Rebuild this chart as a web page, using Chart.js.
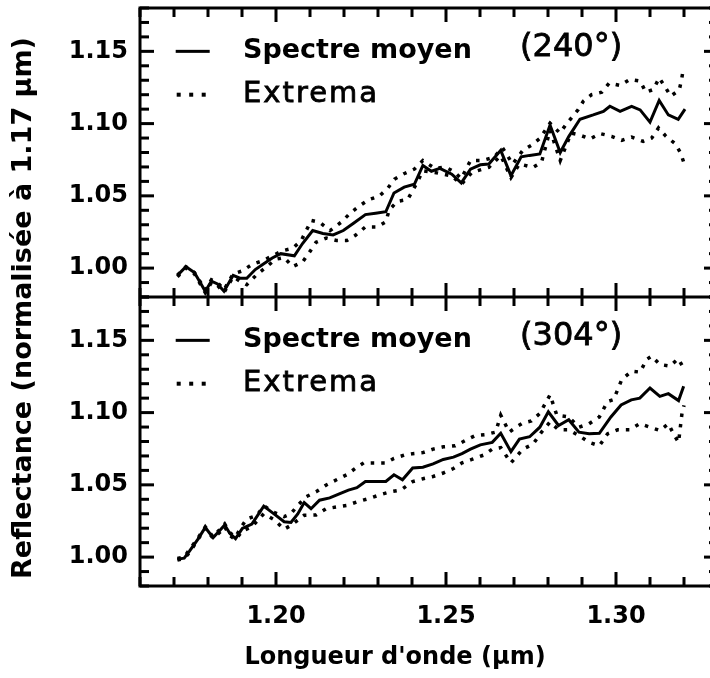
<!DOCTYPE html>
<html>
<head>
<meta charset="utf-8">
<script src="https://cdn.jsdelivr.net/npm/chart.js@4.4.1/dist/chart.umd.min.js"></script>
<style>
  html, body { margin: 0; padding: 0; background: #fff; overflow: hidden; }
  #wrap { position: relative; width: 722px; height: 678px; }
</style>
</head>
<body>
<div id="wrap"><canvas id="chart"></canvas></div>
<script>
// panel 240° : spectre moyen + extrema
const wl240Mean = [1.171, 1.1735, 1.176, 1.1792, 1.181, 1.1828, 1.1847, 1.1874, 1.1894, 1.1914, 1.1939, 1.1964, 1.1989, 1.2014, 1.2054, 1.2078, 1.2108, 1.2138, 1.2168, 1.2198, 1.2228, 1.2263, 1.2293, 1.2323, 1.2347, 1.2377, 1.2407, 1.2432, 1.2457, 1.2482, 1.2517, 1.2545, 1.2572, 1.2601, 1.2626, 1.2661, 1.2691, 1.2721, 1.2746, 1.2776, 1.2806, 1.2836, 1.2861, 1.2894, 1.2933, 1.2963, 1.2982, 1.3012, 1.3046, 1.3071, 1.31, 1.3127, 1.3154, 1.3183, 1.3203];
const refl240Mean = [0.995, 1.001, 0.997, 0.984, 0.991, 0.989, 0.984, 0.995, 0.993, 0.993, 0.999, 1.003, 1.007, 1.010, 1.0085, 1.017, 1.026, 1.024, 1.023, 1.026, 1.031, 1.037, 1.038, 1.039, 1.052, 1.056, 1.058, 1.071, 1.067, 1.069, 1.065, 1.059, 1.0685, 1.0715, 1.072, 1.0815, 1.064, 1.077, 1.078, 1.079, 1.099, 1.080, 1.091, 1.103, 1.106, 1.1085, 1.112, 1.1085, 1.112, 1.1095, 1.101, 1.116, 1.106, 1.103, 1.110];

const wl240Max = [1.171, 1.1735, 1.176, 1.1792, 1.181, 1.1828, 1.1847, 1.1874, 1.19, 1.193, 1.196, 1.1989, 1.2019, 1.2049, 1.2074, 1.2104, 1.2129, 1.2159, 1.2193, 1.2218, 1.2243, 1.2273, 1.2303, 1.2328, 1.2348, 1.2378, 1.2407, 1.2432, 1.2467, 1.2497, 1.2522, 1.2545, 1.2572, 1.2606, 1.2641, 1.2666, 1.2696, 1.2726, 1.2751, 1.2776, 1.2806, 1.2835, 1.2855, 1.2889, 1.2904, 1.2928, 1.2958, 1.298, 1.3012, 1.3041, 1.3071, 1.3088, 1.311, 1.3127, 1.3144, 1.3161, 1.3186, 1.3193, 1.3198];
const refl240Max = [0.995, 1.001, 0.997, 0.985, 0.992, 0.990, 0.985, 0.996, 0.998, 1.0026, 1.005, 1.0085, 1.012, 1.0137, 1.019, 1.033, 1.0316, 1.026, 1.032, 1.038, 1.0426, 1.0474, 1.0497, 1.055, 1.0615, 1.0655, 1.0685, 1.0744, 1.069, 1.070, 1.067, 1.062, 1.0744, 1.0744, 1.0767, 1.0833, 1.072, 1.0815, 1.085, 1.0897, 1.1003, 1.0935, 1.100, 1.1097, 1.1155, 1.120, 1.1217, 1.128, 1.1264, 1.1306, 1.1294, 1.1217, 1.1236, 1.1317, 1.1255, 1.119, 1.1232, 1.1306, 1.138];

const wl240Min = [1.171, 1.1735, 1.176, 1.1792, 1.181, 1.1828, 1.1847, 1.1874, 1.1894, 1.1914, 1.1944, 1.1969, 1.1999, 1.2024, 1.2049, 1.2078, 1.2098, 1.2118, 1.2148, 1.2178, 1.2208, 1.2233, 1.2263, 1.2298, 1.2323, 1.2333, 1.2357, 1.2387, 1.2412, 1.2432, 1.2467, 1.2517, 1.2545, 1.2576, 1.2626, 1.2661, 1.2691, 1.2716, 1.2756, 1.2781, 1.2806, 1.2836, 1.2868, 1.2889, 1.2924, 1.2953, 1.2987, 1.3017, 1.3046, 1.308, 1.3105, 1.3125, 1.3147, 1.3174, 1.319, 1.32];
const refl240Min = [0.994, 1.000, 0.996, 0.983, 0.990, 0.988, 0.983, 0.994, 0.991, 0.9885, 0.9956, 1.0003, 1.0061, 1.0073, 1.001, 1.0042, 1.0108, 1.0179, 1.0208, 1.0191, 1.0191, 1.0226, 1.0285, 1.0285, 1.032, 1.0403, 1.0462, 1.0474, 1.0579, 1.0674, 1.0662, 1.0638, 1.0579, 1.0662, 1.0697, 1.0779, 1.0626, 1.0721, 1.0697, 1.0733, 1.0956, 1.0744, 1.0935, 1.0924, 1.0894, 1.0931, 1.0912, 1.0884, 1.0907, 1.0877, 1.090, 1.097, 1.0912, 1.0861, 1.0796, 1.0727];

// panel 304°
const wl304Mean = [1.171, 1.173, 1.1745, 1.177, 1.1792, 1.1815, 1.1834, 1.1849, 1.1864, 1.1881, 1.1901, 1.1929, 1.1964, 1.1994, 1.2024, 1.2044, 1.2064, 1.2083, 1.2103, 1.2128, 1.2158, 1.2188, 1.2213, 1.2238, 1.2263, 1.2293, 1.2323, 1.2347, 1.2372, 1.2402, 1.2432, 1.2462, 1.2492, 1.2522, 1.2547, 1.2572, 1.2601, 1.2636, 1.2661, 1.2691, 1.2716, 1.2746, 1.2776, 1.2801, 1.2831, 1.2861, 1.2891, 1.2921, 1.2951, 1.2985, 1.3015, 1.3045, 1.307, 1.31, 1.3129, 1.3154, 1.3184, 1.3199];
const refl304Mean = [0.9986, 0.9993, 1.004, 1.0123, 1.0205, 1.0135, 1.0182, 1.0222, 1.0165, 1.0128, 1.0198, 1.0228, 1.0353, 1.0299, 1.0245, 1.024, 1.0299, 1.0377, 1.0335, 1.0394, 1.041, 1.044, 1.0464, 1.048, 1.0523, 1.0523, 1.0523, 1.057, 1.0535, 1.0617, 1.0622, 1.0645, 1.0676, 1.0692, 1.0716, 1.0747, 1.0777, 1.0794, 1.0857, 1.073, 1.0817, 1.0833, 1.0899, 1.1006, 1.0911, 1.0951, 1.0865, 1.0853, 1.0857, 1.097, 1.1053, 1.1088, 1.110, 1.117, 1.1112, 1.1131, 1.1083, 1.1182];

const wl304Max = [1.171, 1.173, 1.1745, 1.177, 1.1792, 1.1815, 1.1834, 1.1849, 1.1864, 1.1881, 1.1901, 1.1914, 1.1944, 1.1964, 1.1994, 1.2024, 1.2044, 1.2064, 1.2088, 1.2118, 1.2148, 1.2178, 1.2208, 1.2233, 1.2258, 1.2293, 1.2323, 1.2347, 1.2377, 1.2402, 1.2432, 1.2462, 1.2492, 1.2527, 1.2556, 1.2586, 1.2616, 1.2646, 1.2661, 1.2686, 1.2706, 1.2726, 1.2751, 1.2776, 1.2806, 1.2826, 1.2861, 1.2891, 1.2921, 1.2951, 1.2975, 1.2993, 1.3017, 1.3046, 1.3071, 1.309, 1.3105, 1.3129, 1.3159, 1.3183, 1.3201];
const refl304Max = [0.999, 1.000, 1.005, 1.013, 1.021, 1.014, 1.019, 1.023, 1.017, 1.014, 1.022, 1.0264, 1.0288, 1.0355, 1.031, 1.028, 1.030, 1.0358, 1.0417, 1.0452, 1.0499, 1.0535, 1.057, 1.0613, 1.0652, 1.0652, 1.0652, 1.0683, 1.0706, 1.0716, 1.0723, 1.0747, 1.0763, 1.077, 1.0806, 1.0841, 1.0848, 1.0865, 1.0982, 1.0865, 1.0899, 1.0928, 1.0942, 1.0994, 1.1123, 1.0982, 1.097, 1.0899, 1.0923, 1.097, 1.1076, 1.109, 1.1229, 1.1287, 1.128, 1.1368, 1.1391, 1.1333, 1.1322, 1.1373, 1.1299];

const wl304Min = [1.171, 1.173, 1.1745, 1.177, 1.1792, 1.1815, 1.1834, 1.1849, 1.1864, 1.1881, 1.1901, 1.1929, 1.1964, 1.1994, 1.2024, 1.2044, 1.2083, 1.2118, 1.2148, 1.2178, 1.2208, 1.2243, 1.2273, 1.2308, 1.2337, 1.2367, 1.2402, 1.2432, 1.2462, 1.2492, 1.2522, 1.2547, 1.2576, 1.2611, 1.2636, 1.2661, 1.2691, 1.2726, 1.2756, 1.2781, 1.2806, 1.2831, 1.2861, 1.2891, 1.2921, 1.2951, 1.2975, 1.3005, 1.304, 1.307, 1.31, 1.3129, 1.3154, 1.3169, 1.3184, 1.3194, 1.32];
const refl304Min = [0.998, 0.999, 1.003, 1.012, 1.020, 1.013, 1.017, 1.021, 1.015, 1.012, 1.018, 1.021, 1.030, 1.026, 1.0193, 1.022, 1.029, 1.0292, 1.0335, 1.0347, 1.0358, 1.0386, 1.0405, 1.0433, 1.0452, 1.0464, 1.0523, 1.0542, 1.0558, 1.0582, 1.0613, 1.0652, 1.0676, 1.0706, 1.0747, 1.0758, 1.0652, 1.0747, 1.0782, 1.0865, 1.0935, 1.0881, 1.0881, 1.0841, 1.0794, 1.077, 1.0853, 1.0881, 1.0881, 1.0923, 1.0899, 1.0876, 1.0923, 1.0853, 1.0794, 1.0994, 1.105];

const panelLabels = ['(240°)', '(304°)'];
const legendLabels = ['Spectre moyen', 'Extrema'];
const yTickLabels = [1.00, 1.05, 1.10, 1.15];
const xTickLabels = [1.20, 1.25, 1.30];

const toPoints = (xs, ys) => xs.map((x, i) => ({ x: x, y: ys[i] }));
const isMajor = v => Math.round(v * 100) % 5 === 0;

function solid(data, axis) {
    return { data: data, yAxisID: axis, borderColor: '#000', borderWidth: 3, pointRadius: 0, tension: 0, fill: false };
}
function dotted(data, axis) {
    return { data: data, yAxisID: axis, borderColor: '#000', borderWidth: 3.5, borderDash: [3.5, 7], pointRadius: 0, tension: 0, fill: false };
}

function yScale() {
    return {
        type: 'linear',
        position: 'left',
        stack: 'panels',
        stackWeight: 1,
        min: 0.98,
        max: 1.18,
        grid: { display: false, drawTicks: false },
        border: { display: false },
        ticks: {
            stepSize: 0.01,
            autoSkip: false,
            padding: 12,
            color: '#000',
            font: { family: 'DejaVu Sans', weight: 'bold', size: 24 },
            callback: v => yTickLabels.some(t => Math.abs(t - v) < 1e-6) ? v.toFixed(2) : ''
        },
        afterFit: s => { s.width = 140; s.paddingTop = 0; s.paddingBottom = 0; }
    };
}

// inward ticks, frame, legends and axis titles
const framePlugin = {
    id: 'frame',
    afterDraw(chart) {
        const c = chart.ctx;
        const area = chart.chartArea;
        const xs = chart.scales.x;
        const panels = [chart.scales.yTop, chart.scales.yBot];
        c.save();
        c.setLineDash([]);
        c.strokeStyle = '#000';
        c.fillStyle = '#000';

        // frame
        c.lineWidth = 3;
        c.strokeRect(area.left, area.top, area.right - area.left, area.bottom - area.top);
        c.fillRect(area.left, panels[0].bottom - 1.5, area.right - area.left, 3);

        // y ticks on both sides, as filled bars
        panels.forEach(ys => {
            ys.ticks.forEach(t => {
                const py = ys.getPixelForValue(t.value);
                const len = isMajor(t.value) ? 14 : 9;
                c.fillRect(area.left, py - 1.5, len, 3);
                c.fillRect(area.right - len, py - 1.5, len, 3);
            });
        });
        // x ticks on the top and bottom of each panel
        xs.ticks.forEach(t => {
            const px = xs.getPixelForValue(t.value);
            const len = isMajor(t.value) ? 14 : 9;
            panels.forEach(ys => {
                c.fillRect(px - 1.5, ys.top, 3, len);
                c.fillRect(px - 1.5, ys.bottom - len, 3, len);
            });
        });

        // legends
        panels.forEach((ys, i) => {
            const l1 = ys.getPixelForValue(1.15);
            const l2 = ys.getPixelForValue(1.12);
            const x0 = xs.getPixelForValue(1.1705);
            const x1 = xs.getPixelForValue(1.1805);
            c.fillRect(x0, l1 - 1.5, x1 - x0, 3);
            for (let k = 0; k < 3; k++) {
                c.fillRect(x0 + 1 + k * 12.5, l2 - 2, 4, 4);
            }
            const tx = xs.getPixelForValue(1.1903);
            c.textAlign = 'left';
            c.textBaseline = 'alphabetic';
            c.font = 'bold 27px "DejaVu Sans"';
            c.fillText(legendLabels[0], tx, l1 + 7);
            c.font = '29px "DejaVu Sans"';
            c.letterSpacing = '2px';
            c.lineWidth = 0.8;
            c.fillText(legendLabels[1], tx, l2 + 7);
            c.strokeText(legendLabels[1], tx, l2 + 7);
            c.letterSpacing = '0px';
            c.font = '32px "DejaVu Sans"';
            c.textBaseline = 'middle';
            c.fillText(panelLabels[i], xs.getPixelForValue(1.2718), l1 - 4);
            c.strokeText(panelLabels[i], xs.getPixelForValue(1.2718), l1 - 4);
        });

        // axis titles
        c.font = 'bold 24px "DejaVu Sans"';
        c.textAlign = 'center';
        c.textBaseline = 'middle';
        c.fillText("Longueur d'onde (µm)", 395, 658);
        c.translate(24, 308);
        c.rotate(-Math.PI / 2);
        c.font = 'bold 27px "DejaVu Sans"';
        c.fillText('Reflectance (normalisée à 1.17 µm)', 0, 0);
        c.restore();
    }
};

new Chart(document.getElementById('chart'), {
    type: 'line',
    data: {
        datasets: [
            solid(toPoints(wl240Mean, refl240Mean), 'yTop'),
            dotted(toPoints(wl240Max, refl240Max), 'yTop'),
            dotted(toPoints(wl240Min, refl240Min), 'yTop'),
            solid(toPoints(wl304Mean, refl304Mean), 'yBot'),
            dotted(toPoints(wl304Max, refl304Max), 'yBot'),
            dotted(toPoints(wl304Min, refl304Min), 'yBot')
        ]
    },
    options: {
        responsive: true,
        maintainAspectRatio: false,
        animation: false,
        layout: { padding: { left: 0, right: 4, top: 8, bottom: 0 } },
        plugins: { legend: { display: false }, tooltip: { enabled: false } },
        scales: {
            x: {
                type: 'linear',
                min: 1.16,
                max: 1.33,
                grid: { display: false, drawTicks: false },
                border: { display: false },
                ticks: {
                    stepSize: 0.01,
                    autoSkip: false,
                    maxRotation: 0,
                    padding: 16,
                    color: '#000',
                    font: { family: 'DejaVu Sans', weight: 'bold', size: 24 },
                    callback: v => xTickLabels.some(t => Math.abs(t - v) < 1e-6) ? v.toFixed(2) : ''
                },
                afterFit: s => { s.height = 92; s.paddingLeft = 0; s.paddingRight = 0; }
            },
            // the stack is laid out from the last scale down, so the lower panel comes first
            yBot: yScale(),
            yTop: yScale()
        }
    },
    plugins: [framePlugin]
});
</script>
</body>
</html>
